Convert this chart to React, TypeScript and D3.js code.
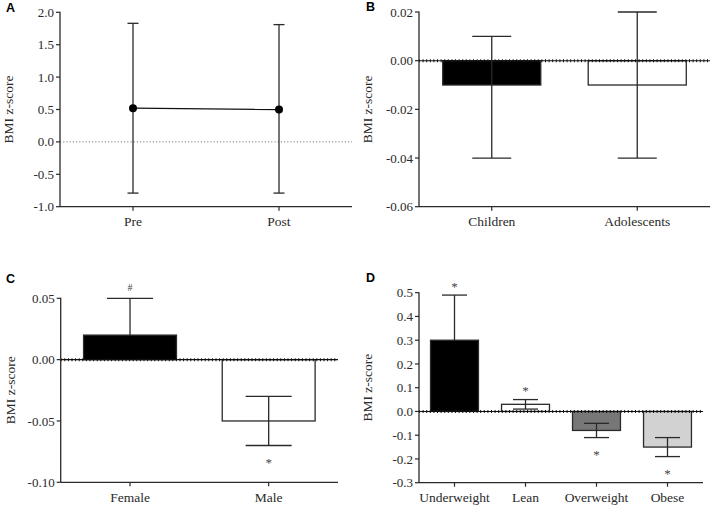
import React from "react";
import * as d3 from "d3";

// ---------- Data ----------
const categoriesA = ["Pre", "Post"];
const meanA = [0.52, 0.5];
const lowA = [-0.79, -0.79];
const highA = [1.83, 1.81];
const ticksA = [-1.0, -0.5, 0.0, 0.5, 1.0, 1.5, 2.0];

const categoriesB = ["Children", "Adolescents"];
const meanB = [-0.01, -0.01];
const lowB = [-0.04, -0.04];
const highB = [0.01, 0.02];
const ticksB = [-0.06, -0.04, -0.02, 0.0, 0.02];

const categoriesC = ["Female", "Male"];
const meanC = [0.02, -0.05];
const lowC = [0.02, -0.07];
const highC = [0.05, -0.03];
const annotC = ["#", "*"];
const ticksC = [-0.1, -0.05, 0.0, 0.05];

const categoriesD = ["Underweight", "Lean", "Overweight", "Obese"];
const meanD = [0.3, 0.03, -0.08, -0.15];
const lowD = [0.3, 0.01, -0.11, -0.19];
const highD = [0.49, 0.05, -0.05, -0.11];
const annotD = ["*", "*", "*", "*"];
const ticksD = [-0.3, -0.2, -0.1, 0.0, 0.1, 0.2, 0.3, 0.4, 0.5];

// ---------- Styles ----------
const SERIF = "'Liberation Serif', 'Times New Roman', serif";
const SANS = "'Liberation Sans', Arial, sans-serif";
const INK = "#2a2a2a";

type Cfg = {
  letter: string;
  letterX: number;
  letterY: number;
  titleX: number;
  left: number;
  right: number;
  top: number;
  bottom: number;
  domain: [number, number];
  ticks: number[];
  fmt: string;
  cats: string[];
  means: number[];
  lows: number[];
  highs: number[];
  kind: "point" | "bar";
  fills?: string[];
  annots?: string[];
  capHalf: number;
  barFrac: number;
};

function Panel({ c }: { c: Cfg }) {
  const x = d3.scaleBand<string>().domain(c.cats).range([c.left, c.right]).padding(0);
  const y = d3.scaleLinear().domain(c.domain).range([c.bottom, c.top]);
  const f = d3.format(c.fmt);
  const y0 = y(0);
  const bw = x.bandwidth() * c.barFrac;
  const cx = (k: string) => (x(k) as number) + x.bandwidth() / 2;
  const line = d3
    .line<number>()
    .x((_, i) => cx(c.cats[i]))
    .y((d) => y(d));

  return (
    <g>
      <text x={c.letterX} y={c.letterY} fontFamily={SANS} fontWeight="bold" fontSize={12.5} fill="#000">
        {c.letter}
      </text>
      <text
        transform={`translate(${c.titleX},${(c.top + c.bottom) / 2}) rotate(-90)`}
        textAnchor="middle"
        fontFamily={SERIF}
        fontSize={13.5}
        fill={INK}
      >
        BMI z-score
      </text>
      {/* y ticks */}
      {c.ticks.map((t) => (
        <g key={t}>
          <line x1={c.left - 4} x2={c.left} y1={y(t)} y2={y(t)} stroke={INK} strokeWidth={1.2} />
          <text
            x={c.left - 6}
            y={y(t)}
            dy="0.35em"
            textAnchor="end"
            fontFamily={SERIF}
            fontSize={13}
            fill={INK}
          >
            {f(t).replace("\u2212", "-")}
          </text>
        </g>
      ))}
      {/* zero line */}
      {c.kind === "point" ? (
        <line x1={c.left} x2={c.right} y1={y0} y2={y0} stroke="#777" strokeWidth={1} strokeDasharray="1.2,2" />
      ) : null}
      {/* bars */}
      {c.kind === "bar" &&
        c.cats.map((k, i) => (
          <rect
            key={k}
            x={cx(k) - bw / 2}
            width={bw}
            y={Math.min(y(c.means[i]), y0)}
            height={Math.abs(y(c.means[i]) - y0)}
            fill={c.fills ? c.fills[i] : "#000"}
            stroke={INK}
            strokeWidth={1.3}
          />
        ))}
      {c.kind === "bar" ? (
        <g>
          <line x1={c.left} x2={c.right} y1={y0} y2={y0} stroke="#111" strokeWidth={1.1} />
          <line x1={c.left} x2={c.right} y1={y0} y2={y0} stroke="#111" strokeWidth={3} strokeDasharray="1,2.6" />
        </g>
      ) : null}
      {/* error bars */}
      {c.cats.map((k, i) => {
        const xc = cx(k);
        return (
          <g key={k} stroke={INK} strokeWidth={1.3}>
            <line x1={xc} x2={xc} y1={y(c.lows[i])} y2={y(c.highs[i])} />
            {c.highs[i] !== c.means[i] ? (
              <line x1={xc - c.capHalf} x2={xc + c.capHalf} y1={y(c.highs[i])} y2={y(c.highs[i])} />
            ) : null}
            {c.lows[i] !== c.means[i] ? (
              <line x1={xc - c.capHalf} x2={xc + c.capHalf} y1={y(c.lows[i])} y2={y(c.lows[i])} />
            ) : null}
          </g>
        );
      })}
      {/* points */}
      {c.kind === "point" ? (
        <g>
          <path d={line(c.means) || ""} fill="none" stroke="#111" strokeWidth={1.3} />
          {c.cats.map((k, i) => (
            <circle key={k} cx={cx(k)} cy={y(c.means[i])} r={4} fill="#000" />
          ))}
        </g>
      ) : null}
      {/* annotations */}
      {c.annots &&
        c.cats.map((k, i) => {
          const up = c.means[i] >= 0;
          const yy = up ? y(c.highs[i]) - 11.5 : y(c.lows[i]) + 14;
          const sym = c.annots![i];
          return (
            <text
              key={k}
              x={cx(k)}
              y={sym === "#" ? yy + 4 : yy + 7}
              textAnchor="middle"
              fontFamily={SERIF}
              fontSize={sym === "#" ? 10 : 13}
              fill="#444"
            >
              {sym}
            </text>
          );
        })}
      {/* axes */}
      <line x1={c.left} x2={c.left} y1={c.top - 0.5} y2={c.bottom} stroke={INK} strokeWidth={1.3} />
      <line x1={c.left} x2={c.right} y1={c.bottom} y2={c.bottom} stroke={INK} strokeWidth={1.3} />
      {c.cats.map((k) => (
        <g key={k}>
          <line x1={cx(k)} x2={cx(k)} y1={c.bottom} y2={c.bottom + 4} stroke={INK} strokeWidth={1.2} />
          <text x={cx(k)} y={c.bottom + 19.5} textAnchor="middle" fontFamily={SERIF} fontSize={13.5} fill={INK}>
            {k}
          </text>
        </g>
      ))}
    </g>
  );
}

export default function App() {
  const panels: Cfg[] = [
    {
      letter: "A", letterX: 6, letterY: 12, titleX: 13,
      left: 60, right: 352, top: 12.3, bottom: 206.7,
      domain: [-1, 2], ticks: ticksA, fmt: ".1f",
      cats: categoriesA, means: meanA, lows: lowA, highs: highA,
      kind: "point", capHalf: 5.5, barFrac: 0.67,
    },
    {
      letter: "B", letterX: 366, letterY: 11, titleX: 372,
      left: 419, right: 710, top: 12, bottom: 206.7,
      domain: [-0.06, 0.02], ticks: ticksB, fmt: ".2f",
      cats: categoriesB, means: meanB, lows: lowB, highs: highB,
      kind: "bar", fills: ["#000", "#fff"], capHalf: 19.5, barFrac: 0.674,
    },
    {
      letter: "C", letterX: 6, letterY: 283, titleX: 15,
      left: 60.7, right: 338, top: 298.3, bottom: 482.3,
      domain: [-0.1, 0.05], ticks: ticksC, fmt: ".2f",
      cats: categoriesC, means: meanC, lows: lowC, highs: highC,
      kind: "bar", fills: ["#000", "#fff"], annots: annotC, capHalf: 23, barFrac: 0.67,
    },
    {
      letter: "D", letterX: 366, letterY: 282, titleX: 372,
      left: 419, right: 703, top: 292.7, bottom: 482.7,
      domain: [-0.3, 0.5], ticks: ticksD, fmt: ".1f",
      cats: categoriesD, means: meanD, lows: lowD, highs: highD,
      kind: "bar", fills: ["#000", "#fff", "#777", "#d2d2d2"], annots: annotD, capHalf: 12.5, barFrac: 0.675,
    },
  ];
  return (
    <svg
      width={713}
      height={507}
      viewBox="0 0 713 507"
      style={{ position: "absolute", left: 0, top: 0, background: "#fff" }}
    >
      <rect width={713} height={507} fill="#fff" />
      {panels.map((p) => (
        <Panel key={p.letter} c={p} />
      ))}
    </svg>
  );
}
